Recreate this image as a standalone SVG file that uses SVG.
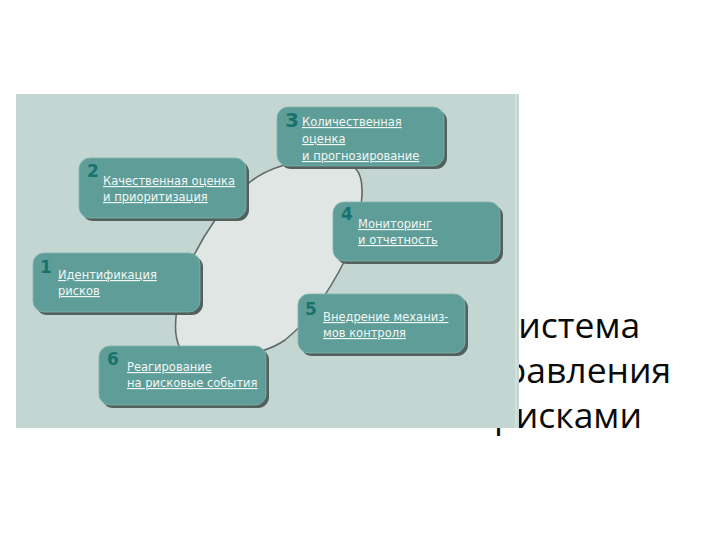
<svg xmlns="http://www.w3.org/2000/svg" width="720" height="540" viewBox="0 0 720 540">
  <style>
    .title { font-family: "Open Sans", "Noto Sans", "DejaVu Sans", sans-serif; font-size: 35.5px; fill: #0a0a0a; text-anchor: middle; }
    .box { fill: #5f9e98; stroke: #80b3ad; stroke-width: 0.8; }
    .shadow { fill: #52605e; }
    .num { font-family: "DejaVu Sans", "Liberation Sans", sans-serif; font-weight: bold; font-size: 17px; fill: #17736e; }
    .lbl { font-family: "DejaVu Sans", "Liberation Sans", sans-serif; font-size: 11.5px; fill: #f2f6f5; text-decoration: underline; }
  </style>

  <rect width="720" height="540" fill="#ffffff"/>

  <!-- title (partly covered by the picture panel) -->
  <g id="title">
    <text class="title" x="568" y="338">Система</text>
    <text class="title" x="568" y="383">управления</text>
    <text class="title" x="568" y="428">рисками</text>
  </g>

  <!-- picture panel -->
  <rect x="16" y="94" width="503" height="334" fill="#c4d6d1"/>
  <rect x="515" y="94" width="2" height="334" fill="#d3e1dd"/>

  <!-- connector ring -->
  <g id="connectors">
    <path d="M 250,182 C 275,162 330,150 355,168 C 368,180 362,220 345,260 C 330,290 310,320 285,340 C 260,358 200,365 180,348 C 170,330 178,290 193,257 C 203,237 225,200 250,182 Z" fill="#e0e6e4" stroke="#626b69" stroke-width="1.6"/>
  </g>

  <g id="node3">
    <rect class="shadow" x="280" y="110" width="167" height="59" rx="11"/>
    <rect class="box" x="277" y="107" width="167" height="59" rx="11"/>
    <text class="num" x="285" y="127" style="font-size:20px">3</text>
    <text class="lbl" x="302" y="126">Количественная</text>
    <text class="lbl" x="302" y="143">оценка</text>
    <text class="lbl" x="302" y="160">и прогнозирование</text>
  </g>

  <g id="node2">
    <rect class="shadow" x="82" y="161" width="167" height="60" rx="11"/>
    <rect class="box" x="79" y="158" width="167" height="60" rx="11"/>
    <text class="num" x="87" y="177">2</text>
    <text class="lbl" x="103" y="185">Качественная оценка</text>
    <text class="lbl" x="103" y="201">и приоритизация</text>
  </g>

  <g id="node4">
    <rect class="shadow" x="336" y="205" width="167" height="59" rx="11"/>
    <rect class="box" x="333" y="202" width="167" height="59" rx="11"/>
    <text class="num" x="341" y="220">4</text>
    <text class="lbl" x="358" y="228">Мониторинг</text>
    <text class="lbl" x="358" y="244">и отчетность</text>
  </g>

  <g id="node1">
    <rect class="shadow" x="36" y="256" width="167" height="59" rx="11"/>
    <rect class="box" x="33" y="253" width="167" height="59" rx="11"/>
    <text class="num" x="40" y="273">1</text>
    <text class="lbl" x="58" y="279">Идентификация</text>
    <text class="lbl" x="58" y="295">рисков</text>
  </g>

  <g id="node5">
    <rect class="shadow" x="301" y="297" width="167" height="59" rx="11"/>
    <rect class="box" x="298" y="294" width="167" height="59" rx="11"/>
    <text class="num" x="305" y="315">5</text>
    <text class="lbl" x="323" y="321">Внедрение механиз-</text>
    <text class="lbl" x="323" y="337">мов контроля</text>
  </g>

  <g id="node6">
    <rect class="shadow" x="102" y="349" width="167" height="59" rx="11"/>
    <rect class="box" x="99" y="346" width="167" height="59" rx="11"/>
    <text class="num" x="107" y="365">6</text>
    <text class="lbl" x="127" y="371">Реагирование</text>
    <text class="lbl" x="127" y="387">на рисковые события</text>
  </g>
</svg>
